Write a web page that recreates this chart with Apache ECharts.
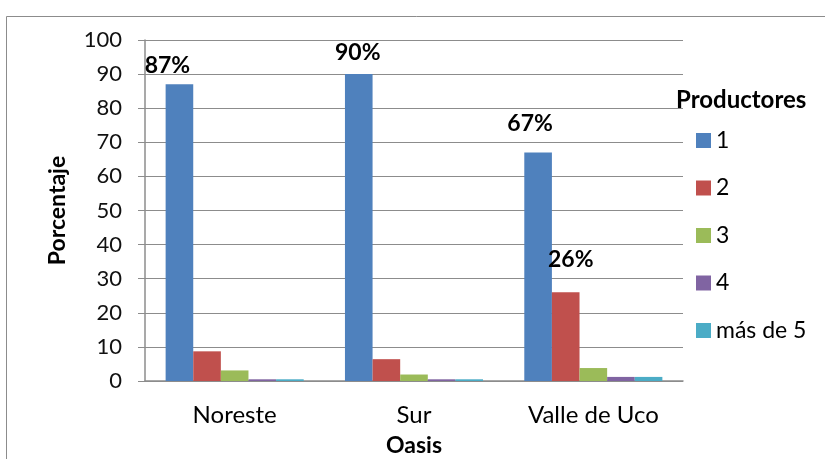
<!DOCTYPE html>
<html>
<head>
<meta charset="utf-8">
<script src="https://cdn.jsdelivr.net/npm/echarts@6/dist/echarts.min.js"></script>
<style>
html,body{margin:0;padding:0;background:#fff;}
#chart{width:825px;height:459px;}
</style>
</head>
<body>
<div id="chart"></div>
<script>
// ---- Data ----
const categories = ['Noreste', 'Sur', 'Valle de Uco'];
const seriesNames = ['1', '2', '3', '4', 'más de 5'];
const values1 = [87, 90, 67];
const values2 = [8.7, 6.4, 26];
const values3 = [3.1, 1.9, 3.8];
const values4 = [0.5, 0.5, 1.2];
const values5 = [0.5, 0.5, 1.2];
const yTicks = [0, 10, 20, 30, 40, 50, 60, 70, 80, 90, 100];
// which points carry a percentage label: [seriesIndex, categoryIndex]
const labelled = [[0, 0], [0, 1], [0, 2], [1, 2]];

// ---- Layout / style (not data) ----
const colors = ['#4F81BD', '#C0504D', '#9BBB59', '#8064A2', '#4BACC6'];
const labelShift = { '0-0': [-12, -2], '0-1': [-1, -5], '0-2': [-8, -12], '1-2': [5, -16] };
const FONT = 'Lato';

const allValues = [values1, values2, values3, values4, values5];

const series = allValues.map((vals, si) => ({
  name: seriesNames[si],
  type: 'bar',
  barGap: '0%',
  barCategoryGap: '23%',
  itemStyle: { color: colors[si] },
  data: vals.map((v, ci) => {
    const key = si + '-' + ci;
    const isLab = labelled.some(p => p[0] === si && p[1] === ci);
    const d = { value: v };
    if (isLab) {
      d.label = {
        show: true,
        position: 'top',
        distance: 5,
        offset: labelShift[key] || [0, 0],
        formatter: p => Math.round(p.value) + '%',
        fontFamily: FONT,
        fontWeight: 'bold',
        fontSize: 23,
        color: '#000'
      };
    }
    return d;
  })
}));

const chart = echarts.init(document.getElementById('chart'), null, { renderer: 'canvas' });
chart.setOption({
  animation: false,
  backgroundColor: '#fff',
  textStyle: { fontFamily: FONT },
  graphic: [{
    type: 'rect',
    shape: { x: 6.5, y: 16.5, width: 840, height: 470 },
    style: { fill: 'none', stroke: '#8c8c8c', lineWidth: 1 },
    z: -10
  }, {
    type: 'text',
    left: 676, top: 88,
    style: { text: 'Productores', font: 'bold 24px Lato', fill: '#000' }
  }],
  legend: {
    orient: 'vertical',
    left: 691, top: 124,
    itemWidth: 15, itemHeight: 15,
    itemGap: 24.5,
    icon: 'rect',
    textStyle: { fontFamily: FONT, fontSize: 23, color: '#000', padding: [0, 0, 0, 0] },
    data: seriesNames
  },
  grid: { left: 145, right: 142, top: 40, bottom: 78, containLabel: false, outerBoundsMode: 'none' },
  xAxis: {
    type: 'category',
    data: categories,
    name: 'Oasis',
    nameLocation: 'middle',
    nameGap: 53,
    nameTextStyle: { fontFamily: FONT, fontWeight: 'bold', fontSize: 23, color: '#000' },
    axisLine: { show: true, lineStyle: { color: '#8c8c8c', width: 1.5 } },
    axisTick: { show: false },
    axisLabel: { fontFamily: FONT, fontSize: 24, color: '#000', margin: 22 }
  },
  yAxis: {
    type: 'value',
    min: yTicks[0],
    max: yTicks[yTicks.length - 1],
    interval: yTicks[1] - yTicks[0],
    name: 'Porcentaje',
    nameLocation: 'middle',
    nameGap: 76,
    nameRotate: 90,
    nameTextStyle: { fontFamily: FONT, fontWeight: 'bold', fontSize: 23, color: '#000' },
    axisLine: { show: true, lineStyle: { color: '#8c8c8c', width: 1.5 } },
    axisTick: { show: true, length: 7, lineStyle: { color: '#8c8c8c' } },
    axisLabel: { fontFamily: FONT, fontSize: 22, color: '#111', margin: 23 },
    splitLine: { show: true, lineStyle: { color: '#8c8c8c', width: 1 } }
  },
  series: series
});
</script>
</body>
</html>
